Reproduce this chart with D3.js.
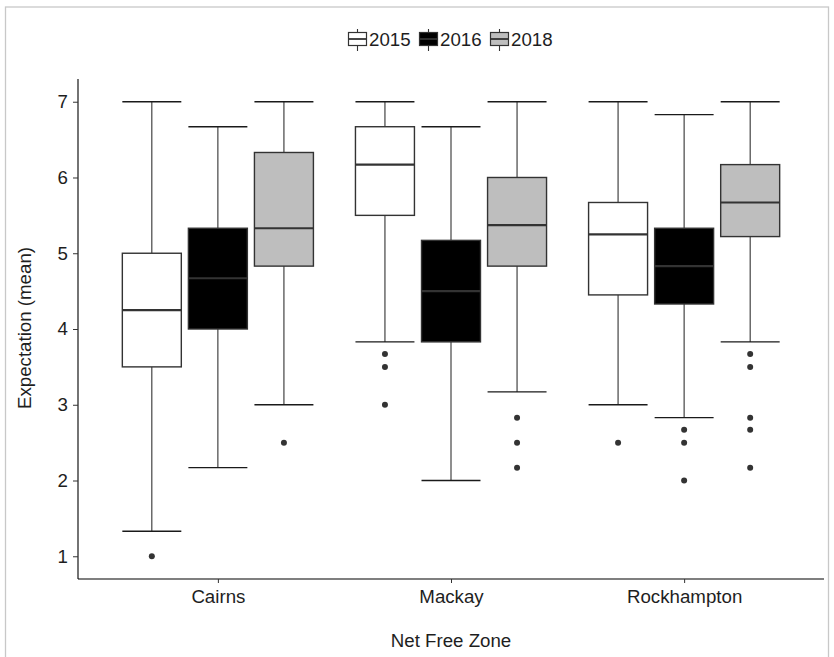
<!DOCTYPE html>
<html>
<head>
<meta charset="utf-8">
<script src="https://cdn.jsdelivr.net/npm/d3@7"></script>
<style>
  html, body { margin: 0; padding: 0; background: #fff; }
  svg { display: block; font-family: "Liberation Sans", Arial, sans-serif; }
</style>
</head>
<body>
<svg id="chart" width="834" height="657"></svg>
<script>
// Zones on the x axis and survey years (dodged groups)
const categories = ["Cairns", "Mackay", "Rockhampton"];
const years = ["2015", "2016", "2018"];
const yearFills = ["#FFFFFF", "#000000", "#BEBEBE"];
const yTicks = [1, 2, 3, 4, 5, 6, 7];

// Box statistics per zone: [lower whisker, Q1, median, Q3, upper whisker]
const stats2015 = [[1.33, 3.5, 4.25, 5.0, 7.0], [3.83, 5.5, 6.17, 6.67, 7.0], [3.0, 4.45, 5.25, 5.67, 7.0]];
const stats2016 = [[2.17, 4.0, 4.67, 5.33, 6.67], [2.0, 3.83, 4.5, 5.17, 6.67], [2.83, 4.33, 4.83, 5.33, 6.83]];
const stats2018 = [[3.0, 4.83, 5.33, 6.33, 7.0], [3.17, 4.83, 5.37, 6.0, 7.0], [3.83, 5.22, 5.67, 6.17, 7.0]];

// Outlying observations per zone
const outliers2015 = [[1.0], [3.67, 3.5, 3.0], [2.5]];
const outliers2016 = [[], [], [2.67, 2.5, 2.0]];
const outliers2018 = [[2.5], [2.83, 2.5, 2.17], [3.67, 3.5, 2.83, 2.67, 2.17]];

const statsByYear = [stats2015, stats2016, stats2018];
const outliersByYear = [outliers2015, outliers2016, outliers2018];

const svg = d3.select("#chart");
const panel = { left: 78, right: 824, top: 79, bottom: 579 };
const fontSize = 18.7;
const textColor = "#1e1e1e";

// outer frame
svg.append("rect")
  .attr("x", 5.5).attr("y", 7).attr("width", 823).attr("height", 660)
  .attr("fill", "none").attr("stroke", "#C8C8C8").attr("stroke-width", 1.3);

const x = d3.scalePoint().domain(categories).range([panel.left, panel.right]).padding(0.6);
const step = x.step();
const dodge = d3.scaleBand().domain(years).range([-0.425 * step, 0.425 * step]);
const boxW = 0.253 * step;

const y = d3.scaleLinear().domain([0.7, 7.3]).range([panel.bottom, panel.top]);

const ink = "#333333";
const g = svg.append("g");

years.forEach((yr, yi) => {
  categories.forEach((cat, ci) => {
    const [lo, q1, med, q3, hi] = statsByYear[yi][ci];
    const cx = x(cat) + dodge(yr) + dodge.bandwidth() / 2;
    const grp = g.append("g");
    // whiskers
    grp.append("line").attr("x1", cx).attr("x2", cx).attr("y1", y(hi)).attr("y2", y(q3))
      .attr("stroke", ink).attr("stroke-width", 1.1);
    grp.append("line").attr("x1", cx).attr("x2", cx).attr("y1", y(q1)).attr("y2", y(lo))
      .attr("stroke", ink).attr("stroke-width", 1.1);
    // whisker caps
    [lo, hi].forEach(v => {
      grp.append("line").attr("x1", cx - boxW / 2).attr("x2", cx + boxW / 2)
        .attr("y1", y(v)).attr("y2", y(v))
        .attr("stroke", "#1a1a1a").attr("stroke-width", 1.3);
    });
    // box
    grp.append("rect")
      .attr("x", cx - boxW / 2).attr("width", boxW)
      .attr("y", y(q3)).attr("height", y(q1) - y(q3))
      .attr("fill", yearFills[yi]).attr("stroke", ink).attr("stroke-width", 1.4);
    // median
    grp.append("line").attr("x1", cx - boxW / 2).attr("x2", cx + boxW / 2)
      .attr("y1", y(med)).attr("y2", y(med))
      .attr("stroke", ink).attr("stroke-width", 2.2);
    // outliers
    grp.selectAll("circle").data(outliersByYear[yi][ci]).enter().append("circle")
      .attr("cx", cx).attr("cy", d => y(d)).attr("r", 3)
      .attr("fill", ink);
  });
});

// axes
const yAxis = svg.append("g").attr("transform", `translate(${panel.left},0)`)
  .call(d3.axisLeft(y).tickValues(yTicks).tickSize(5).tickPadding(5).tickFormat(d3.format("d")));
yAxis.select(".domain").attr("d", `M0,${panel.top}V${panel.bottom}`).attr("stroke", "#000").attr("stroke-width", 1.1);
yAxis.selectAll(".tick line").attr("stroke", "#333");
yAxis.selectAll(".tick text").attr("font-size", fontSize).attr("fill", textColor)
  .attr("font-family", "Liberation Sans, Arial, sans-serif");

const xAxis = svg.append("g").attr("transform", `translate(0,${panel.bottom})`)
  .call(d3.axisBottom(x).tickSize(4).tickPadding(7));
xAxis.select(".domain").attr("d", `M${panel.left},0H${panel.right}`).attr("stroke", "#000").attr("stroke-width", 1.1);
xAxis.selectAll(".tick line").attr("stroke", "#333");
xAxis.selectAll(".tick text").attr("font-size", fontSize).attr("fill", textColor)
  .attr("font-family", "Liberation Sans, Arial, sans-serif");

// axis titles
svg.append("text").attr("x", (panel.left + panel.right) / 2).attr("y", 647)
  .attr("text-anchor", "middle").attr("font-size", fontSize).attr("fill", textColor)
  .text("Net Free Zone");
svg.append("text")
  .attr("transform", `translate(31,${(panel.top + panel.bottom) / 2 - 1}) rotate(-90)`)
  .attr("text-anchor", "middle").attr("font-size", fontSize).attr("fill", textColor)
  .text("Expectation (mean)");

// legend
const legend = svg.append("g");
const keyX = [348, 419, 490];
const keyW = 19, keyCy = 39;
years.forEach((yr, i) => {
  const k = legend.append("g").attr("transform", `translate(${keyX[i]},0)`);
  k.append("line").attr("x1", keyW / 2).attr("x2", keyW / 2).attr("y1", keyCy - 10).attr("y2", keyCy + 12)
    .attr("stroke", ink).attr("stroke-width", 1.1);
  k.append("rect").attr("x", 0.5).attr("y", keyCy - 6.5).attr("width", keyW - 1).attr("height", 13)
    .attr("fill", yearFills[i]).attr("stroke", ink).attr("stroke-width", 1.2);
  k.append("line").attr("x1", 0.5).attr("x2", keyW - 0.5).attr("y1", keyCy).attr("y2", keyCy)
    .attr("stroke", ink).attr("stroke-width", 1.8);
  k.append("text").attr("x", keyW + 2).attr("y", keyCy + 7).attr("font-size", fontSize).attr("fill", textColor)
    .text(yr);
});
</script>
</body>
</html>
